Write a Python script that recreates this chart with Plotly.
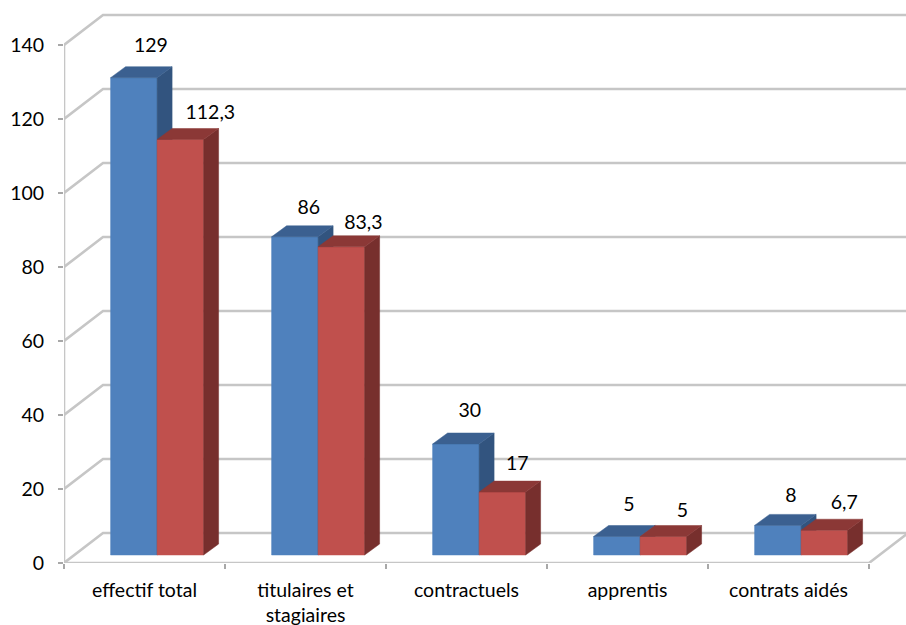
import plotly.graph_objects as go

# ---- data
categories = ["effectif total", "titulaires et<br>stagiaires", "contractuels", "apprentis", "contrats aidés"]
series_blue = [129, 86, 30, 5, 8]
series_red = [112.3, 83.3, 17, 5, 6.7]
y_ticks = [0, 20, 40, 60, 80, 100, 120, 140]

# ---- layout constants (pixels of the 906x625 picture)
W, H = 906, 625
AX_L, AX_B = 64, 563        # origin of the front axis
CAT_PX = 161.0              # pixels per category
VAL_PX = 3.70               # pixels per value unit
WALL_DX, WALL_DY = 39, 30   # depth of the chart box
BAR_DX, BAR_DY = 15, 11     # depth of a bar
BAR_W = 46.5                # width of a bar
BASE_UP = 8                 # rise of bar bases over the front edge
GROUP_SHIFT = 12.6          # bars sit right of the category centre

# data-unit versions
wx = WALL_DX / CAT_PX
wy = WALL_DY / VAL_PX
bx = BAR_DX / CAT_PX
by = BAR_DY / VAL_PX
bw = BAR_W / CAT_PX
base = BASE_UP / VAL_PX
gs = GROUP_SHIFT / CAT_PX
x_lo = -0.5
x_hi = x_lo + (W - AX_L) / CAT_PX
x_end = len(categories) - 0.5

GRID = "#c6c6c6"
BLUE = ("#4f81bd", "#32547f", "#3b6090")
RED = ("#c0504d", "#772f2d", "#8b3836")
FONT = "Lato"
FONT_SIZE = 19.5

# per-label nudges in pixels from the top of its bar
blue_nudge = [(17, -31), (14, -28), (14, -32), (12, -30), (13, -28)]
red_nudge = [(30, -25), (22, -23), (15, -27), (19, -24), (20, -26)]

fig = go.Figure()


def line(xs, ys, width=2.6, color=GRID):
    fig.add_trace(go.Scatter(x=xs, y=ys, mode="lines", line=dict(color=color, width=width),
                             hoverinfo="skip", showlegend=False, cliponaxis=False))


def poly(xs, ys, color):
    fig.add_trace(go.Scatter(x=xs, y=ys, mode="lines", fill="toself", fillcolor=color,
                             line=dict(color=color, width=0.5),
                             hoverinfo="skip", showlegend=False, cliponaxis=False))


# walls: one line for each value tick, running up the side wall then along the back
for v in y_ticks:
    line([x_lo, x_lo + wx, x_hi], [v, v + wy, v + wy])
# front axis lines and right edge of the floor
line([x_lo, x_lo], [0, y_ticks[-1]])
line([x_lo, x_end, x_end + wx], [0, 0, wy])


def bar(left, top, colors):
    right = left + bw
    poly([left, right, right, left, left], [base, base, top, top, base], colors[0])
    poly([right, right + bx, right + bx, right, right], [base, base + by, top + by, top, base], colors[1])
    poly([left, right, right + bx, left + bx, left], [top, top, top + by, top + by, top], colors[2])


for i, (b, r) in enumerate(zip(series_blue, series_red)):
    centre = i + gs
    bar(centre - bw, base + b, BLUE)
    bar(centre, base + r, RED)

# data labels
for values, nudges, shift in ((series_blue, blue_nudge, -bw / 2), (series_red, red_nudge, bw / 2)):
    fig.add_trace(go.Scatter(
        x=[i + gs + shift + n[0] / CAT_PX for i, n in enumerate(nudges)],
        y=[v + base - n[1] / VAL_PX for v, n in zip(values, nudges)],
        text=[str(v).replace(".", ",") for v in values],
        mode="text", textposition="middle center",
        textfont=dict(family=FONT, size=FONT_SIZE, color="black"),
        hoverinfo="skip", showlegend=False, cliponaxis=False))

fig.update_layout(
    width=W, height=H,
    margin=dict(l=AX_L, r=0, t=0, b=H - AX_B, pad=0),
    paper_bgcolor="white", plot_bgcolor="white",
    showlegend=False, hovermode=False,
    font=dict(family=FONT, size=FONT_SIZE, color="black"),
    xaxis=dict(range=[x_lo, x_hi], tickmode="array", tickvals=list(range(len(categories))),
               ticktext=categories, ticks="", showgrid=False, zeroline=False, showline=False,
               ticklabelstandoff=13, tickangle=0,
               minor=dict(tickmode="array", tickvals=[i - 0.5 for i in range(len(categories) + 1)],
                          ticks="outside", ticklen=5, tickwidth=1.5, tickcolor="#a8a8a8", showgrid=False)),
    yaxis=dict(range=[0, AX_B / VAL_PX], tickmode="array", tickvals=y_ticks, ticks="outside",
               ticklen=5, tickwidth=1.5, tickcolor="#a8a8a8", showgrid=False, zeroline=False,
               showline=False, ticklabelstandoff=10),
)

fig.write_html("out.html", config=dict(displayModeBar=False),
               post_script="document.body.style.margin='0';")
